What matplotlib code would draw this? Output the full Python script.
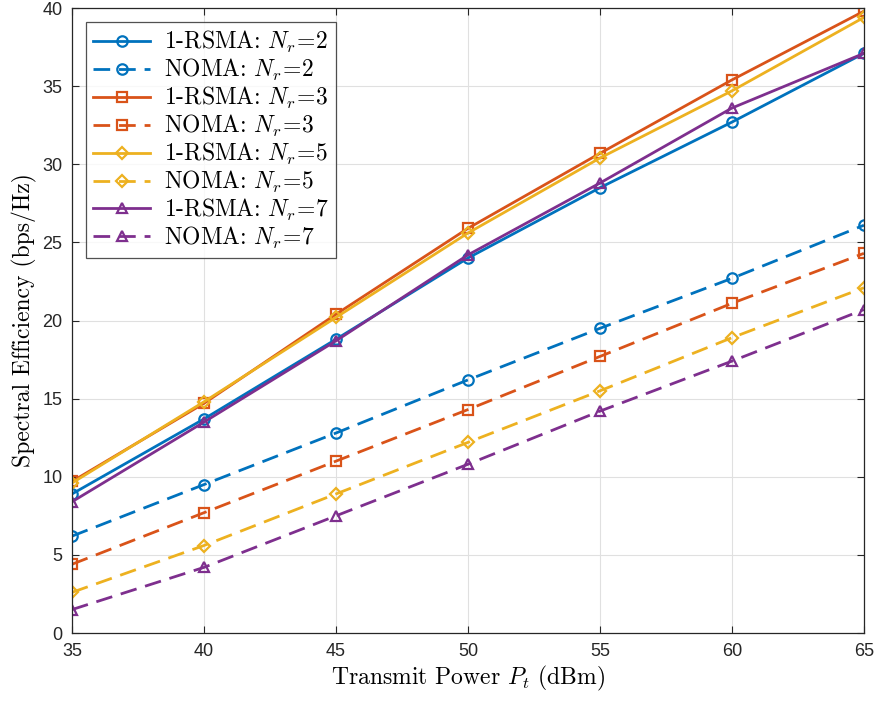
import matplotlib
matplotlib.use("Agg")
import matplotlib.pyplot as plt

plt.rcParams['mathtext.fontset'] = 'cm'

power = [35, 40, 45, 50, 55, 60, 65]
rsma_nr2 = [8.9, 13.7, 18.8, 24.0, 28.5, 32.7, 37.1]
noma_nr2 = [6.2, 9.5, 12.8, 16.2, 19.5, 22.7, 26.1]
rsma_nr3 = [9.7, 14.7, 20.4, 25.9, 30.7, 35.4, 39.8]
noma_nr3 = [4.4, 7.7, 11.0, 14.3, 17.7, 21.1, 24.3]
rsma_nr5 = [9.6, 14.8, 20.2, 25.6, 30.4, 34.7, 39.4]
noma_nr5 = [2.6, 5.6, 8.9, 12.2, 15.5, 18.9, 22.1]
rsma_nr7 = [8.4, 13.5, 18.7, 24.2, 28.8, 33.6, 37.1]
noma_nr7 = [1.5, 4.2, 7.5, 10.8, 14.2, 17.4, 20.7]

series = [
    ("1-RSMA: $N_r\\!=\\!2$", rsma_nr2, '#0072BD', 'o', '-'),
    ("NOMA: $N_r\\!=\\!2$", noma_nr2, '#0072BD', 'o', '--'),
    ("1-RSMA: $N_r\\!=\\!3$", rsma_nr3, '#D95319', 's', '-'),
    ("NOMA: $N_r\\!=\\!3$", noma_nr3, '#D95319', 's', '--'),
    ("1-RSMA: $N_r\\!=\\!5$", rsma_nr5, '#EDB120', 'D', '-'),
    ("NOMA: $N_r\\!=\\!5$", noma_nr5, '#EDB120', 'D', '--'),
    ("1-RSMA: $N_r\\!=\\!7$", rsma_nr7, '#7E2F8E', '^', '-'),
    ("NOMA: $N_r\\!=\\!7$", noma_nr7, '#7E2F8E', '^', '--'),
]

fig = plt.figure(figsize=(8.75, 7.01), dpi=100)
ax = fig.add_axes([0.0823, 0.097, 0.905, 0.8915])

for label, y, c, m, ls in series:
    ms = {'o': 7.5, 's': 7.2, 'D': 6.4, '^': 7.6}[m]
    line, = ax.plot(power, y, color=c, marker=m, linestyle=ls, lw=2,
                    markersize=ms, markerfacecolor='none', markeredgewidth=1.6,
                    label=label)
    if ls == '--':
        line.set_dashes((6, 3.2))

ax.set_xlim(35, 65)
ax.set_ylim(0, 40)
ax.set_xticks(power)
ax.set_yticks(range(0, 41, 5))
ax.grid(True, color='#e0e0e0', lw=0.8)
ax.set_axisbelow(True)
for s in ax.spines.values():
    s.set_color('#262626')
    s.set_linewidth(0.9)
ax.tick_params(direction='in', top=True, right=True, length=5, width=0.8,
               colors='#262626', labelsize=13, pad=7)
for t in ax.get_xticklabels() + ax.get_yticklabels():
    t.set_fontfamily('Liberation Sans')
    t.set_color('#262626')

ax.set_xlabel("Transmit Power $P_t$ (dBm)", fontfamily='cmr10', fontsize=17, labelpad=3)
ax.set_ylabel("Spectral Efficiency (bps/Hz)", fontfamily='cmr10', fontsize=17, labelpad=4)

leg = ax.legend(loc='upper left', prop={'family': 'cmr10', 'size': 17},
                frameon=True, fancybox=False, edgecolor='#262626',
                handlelength=2.4, labelspacing=0.08, borderpad=0.3,
                handletextpad=0.6, borderaxespad=0.6)
leg.get_frame().set_linewidth(0.9)

fig.savefig("out.png", dpi=100)
